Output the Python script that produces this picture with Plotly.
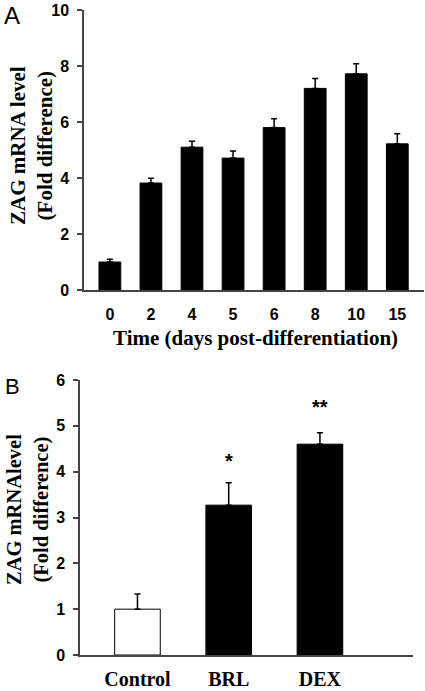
import plotly.graph_objects as go

# Panel A data
days = ["0", "2", "4", "5", "6", "8", "10", "15"]
zag_a = [1.0, 3.82, 5.1, 4.71, 5.8, 7.2, 7.72, 5.22]
err_a = [0.1, 0.17, 0.21, 0.25, 0.32, 0.35, 0.36, 0.36]

# Panel B data
treat = ["Control", "BRL", "DEX"]
zag_b = [1.0, 3.27, 4.6]
err_b = [0.33, 0.49, 0.25]
colors_b = ["white", "black", "black"]
stars = ["", "*", "**"]
star_y = [None, 4.23, 5.41]

W, H = 425, 691
def px_x(x): return x / W
def px_y(y): return (H - y) / H

SERIF = "Liberation Serif"
SANS = "Liberation Sans"

fig = go.Figure()
fig.add_trace(go.Bar(
    x=days, y=zag_a, marker=dict(color="black", line=dict(color="black", width=1)),
    width=0.53,
    error_y=dict(type="data", array=err_a, arrayminus=[0]*len(err_a), symmetric=False,
                 color="black", thickness=1.5, width=3),
    xaxis="x", yaxis="y", showlegend=False))
fig.add_trace(go.Bar(
    x=treat, y=zag_b, marker=dict(color=colors_b, line=dict(color="black", width=1)),
    width=0.5,
    error_y=dict(type="data", array=err_b, arrayminus=[0]*len(err_b), symmetric=False,
                 color="black", thickness=1.5, width=3),
    xaxis="x2", yaxis="y2", showlegend=False))

axis_common = dict(showgrid=False, zeroline=False, showline=True, linecolor="#444", linewidth=1.5)

fig.update_layout(
    width=W, height=H, margin=dict(l=0, r=0, t=0, b=0, autoexpand=False),
    paper_bgcolor="white", plot_bgcolor="white",
    bargap=0.4,
    xaxis=dict(domain=[px_x(84), px_x(424)], anchor="y", range=[-0.63, 7.65],
               ticks="", tickfont=dict(family=SANS, size=16, color="black", weight="bold"),
               ticklabelstandoff=9, **axis_common),
    yaxis=dict(domain=[px_y(290), px_y(10)], anchor="x", range=[0, 10], dtick=2,
               ticks="outside", ticklen=5, tickcolor="#444", tickwidth=1.5,
               tickfont=dict(family=SANS, size=16, color="black", weight="bold"),
               ticklabelstandoff=5, **axis_common),
    xaxis2=dict(domain=[px_x(80), px_x(413)], anchor="y2", range=[-0.63, 3.02],
                ticks="", tickfont=dict(family=SERIF, size=20, color="black", weight="bold"),
                ticklabelstandoff=5, **axis_common),
    yaxis2=dict(domain=[px_y(655), px_y(380)], anchor="x2", range=[0, 6], dtick=1,
                ticks="outside", ticklen=5, tickcolor="#444", tickwidth=1.5,
                tickfont=dict(family=SANS, size=16, color="black", weight="bold"),
                ticklabelstandoff=5, **axis_common),
)

ann = [
    dict(text="A", x=px_x(2), y=px_y(0), xref="paper", yref="paper", xanchor="left", yanchor="top",
         showarrow=False, font=dict(family=SANS, size=24, color="black")),
    dict(text="B", x=px_x(3), y=px_y(372), xref="paper", yref="paper", xanchor="left", yanchor="top",
         showarrow=False, font=dict(family=SANS, size=22, color="black")),
    dict(text="ZAG mRNA level<br>(Fold difference)", x=px_x(31), y=px_y(146), xref="paper", yref="paper",
         xanchor="center", yanchor="middle", textangle=-90, showarrow=False,
         font=dict(family=SERIF, size=21, color="black", weight="bold")),
    dict(text="ZAG mRNAlevel<br>(Fold difference)", x=px_x(28), y=px_y(510), xref="paper", yref="paper",
         xanchor="center", yanchor="middle", textangle=-90, showarrow=False,
         font=dict(family=SERIF, size=20.5, color="black", weight="bold")),
    dict(text="Time (days post-differentiation)", x=px_x(255), y=px_y(338), xref="paper", yref="paper",
         xanchor="center", yanchor="middle", showarrow=False,
         font=dict(family=SERIF, size=21, color="black", weight="bold")),
]
for t, s, yy in zip(treat, stars, star_y):
    if s:
        ann.append(dict(text=s, x=t, y=yy, xref="x2", yref="y2", xanchor="center", yanchor="middle",
                        showarrow=False, font=dict(family=SANS, size=20, color="black", weight="bold")))
fig.update_layout(annotations=ann)

fig.write_html("out.html", config={"responsive": False, "displayModeBar": False},
               post_script="document.body.style.margin='0';document.body.style.overflow='hidden';")
